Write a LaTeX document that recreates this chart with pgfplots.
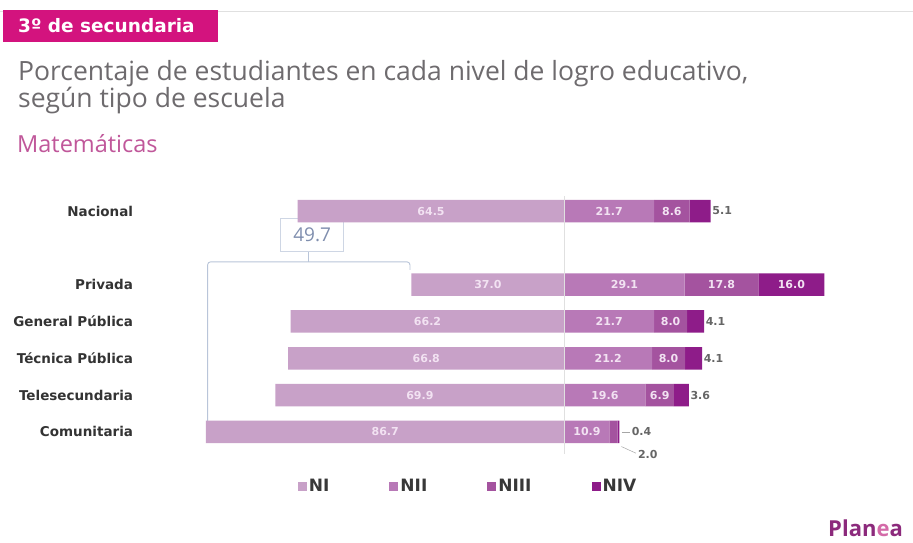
\documentclass[border=0pt]{standalone}
\usepackage{fontspec}
\setmainfont{Open Sans}
\newfontfamily\dvb{DejaVu Sans}
\usepackage{pgfplots}
\pgfplotsset{compat=1.18}
\definecolor{cNI}{HTML}{C8A1C8}
\definecolor{cNII}{HTML}{B879B7}
\definecolor{cNIII}{HTML}{A4539F}
\definecolor{cNIV}{HTML}{8E1C89}
\definecolor{hdr}{HTML}{D3137E}
\definecolor{ttl}{HTML}{6E6B6E}
\definecolor{mat}{HTML}{C0579A}
\definecolor{lbl}{HTML}{F2E2F2}
\definecolor{brk}{HTML}{B9C5D9}
\definecolor{cbox}{HTML}{7F8EAE}
\definecolor{plp}{HTML}{8C2A7C}
\definecolor{ple}{HTML}{D46AA8}
\begin{document}
\begin{tikzpicture}[x=1pt,y=1pt]
\path[use as bounding box, fill=white] (0,0) rectangle (913,542);
% top rule and header
\draw[black!12, line width=0.8pt] (0,531) -- (913,531);
\fill[hdr] (3,500) rectangle (218,532);
\node[anchor=base west, text=white, font=\dvb\bfseries\fontsize{18.5}{20}\selectfont, inner sep=0pt] at (18,509) {3º de secundaria};
\node[anchor=base west, text=ttl, font=\fontsize{26.5}{29}\selectfont, inner sep=0pt] at (18,461) {Porcentaje de estudiantes en cada nivel de logro educativo,};
\node[anchor=base west, text=ttl, font=\fontsize{26.5}{29}\selectfont, inner sep=0pt] at (18,434) {según tipo de escuela};
\node[anchor=base west, text=mat, font=\fontsize{23.5}{26}\selectfont, inner sep=0pt] at (17,389) {Matemáticas};
% bars
\begin{axis}[
  at={(142.7pt,84.4pt)}, anchor=south west,
  scale only axis, width=702.8pt, height=272.3pt,
  xmin=-102, xmax=68, ymin=-0.7, ymax=6.7,
  xbar stacked, bar width=22.5pt,
  axis line style={draw=none}, major tick length=0pt,
  xtick=\empty,
  ytick={0,1,2,3,4,6},
  yticklabels={Comunitaria,Telesecundaria,Técnica Pública,General Pública,Privada,Nacional},
  yticklabel style={font=\dvb\bfseries\fontsize{13.5}{15}\selectfont, text=black!80, inner sep=0pt, xshift=-9.5pt},
  legend columns=4,
  legend style={draw=none, fill=none, at={(0.463,-0.105)}, anchor=center,
    font=\dvb\bfseries\fontsize{17}{19}\selectfont, text=black!78,
    /tikz/every even column/.append style={column sep=58pt}},
  legend image code/.code={\fill[#1] (0pt,-4.5pt) rectangle (9pt,4.5pt);},
  clip=false,
]
\draw[black!12, line width=0.6pt] (axis cs:0,-0.6) -- (axis cs:0,6.4);
\addplot[draw=none, fill=cNI] coordinates {(-86.7,0) (-69.9,1) (-66.8,2) (-66.2,3) (-37.0,4) (-64.5,6)};
\addplot[draw=none, fill=cNII] coordinates {(10.9,0) (19.6,1) (21.2,2) (21.7,3) (29.1,4) (21.7,6)};
\addplot[draw=none, fill=cNIII] coordinates {(2.0,0) (6.9,1) (8.0,2) (8.0,3) (17.8,4) (8.6,6)};
\addplot[draw=none, fill=cNIV] coordinates {(0.4,0) (3.6,1) (4.1,2) (4.1,3) (16.0,4) (5.1,6)};
\legend{NI,NII,NIII,NIV}
% bracket annotation
\draw[brk, line width=0.9pt, rounded corners=3pt] (axis cs:-37.35,4.40) -- (axis cs:-37.35,4.62) -- (axis cs:-86.3,4.62) -- (axis cs:-86.3,0.25);
\draw[brk, line width=0.9pt] (axis cs:-62.0,4.62) -- (axis cs:-62.0,4.89);
\node[draw=brk!70, line width=0.6pt, fill=white, text=cbox, font=\fontsize{19}{21}\selectfont, minimum width=63pt, minimum height=33pt, inner sep=1pt] at (axis cs:-61.0,5.35) {49.7};
% leaders for Comunitaria
\draw[black!35, line width=0.5pt] (axis cs:13.9,0) -- (axis cs:15.8,0);
\draw[black!35, line width=0.5pt] (axis cs:13.8,-0.4) -- (axis cs:17.3,-0.58);
\end{axis}
% labels
\begin{axis}[
  at={(142.7pt,84.4pt)}, anchor=south west,
  scale only axis, width=702.8pt, height=272.3pt,
  xmin=-102, xmax=68, ymin=-0.7, ymax=6.7,
  hide axis, clip=false,
]
\addplot[draw=none, nodes near coords, point meta=explicit symbolic,
  nodes near coords style={anchor=center, text=lbl, font=\dvb\bfseries\fontsize{11}{13}\selectfont}]
  table[meta=l] {
x y l
-43.35 0 86.7
5.45 0 10.9
-34.95 1 69.9
9.8 1 19.6
23.05 1 6.9
-33.4 2 66.8
10.6 2 21.2
25.2 2 8.0
-33.1 3 66.2
10.85 3 21.7
25.7 3 8.0
-18.5 4 37.0
14.55 4 29.1
38.0 4 17.8
54.9 4 16.0
-32.25 6 64.5
10.85 6 21.7
26.0 6 8.6
};
\addplot[draw=none, nodes near coords, point meta=explicit symbolic,
  nodes near coords style={anchor=west, inner sep=1.5pt, text=black!60, font=\dvb\bfseries\fontsize{11}{13}\selectfont}]
  table[meta=l] {
x y l
35.4 6 5.1
33.8 3 4.1
33.3 2 4.1
30.1 1 3.6
15.9 0 0.4
17.4 -0.62 2.0
};
\end{axis}
% logo
\node[anchor=base east, font=\fontsize{22}{24}\selectfont\bfseries, inner sep=0pt] at (903,6) {\textcolor{plp}{Plan}\textcolor{ple}{e}\textcolor{plp}{a}};
\end{tikzpicture}
\end{document}
